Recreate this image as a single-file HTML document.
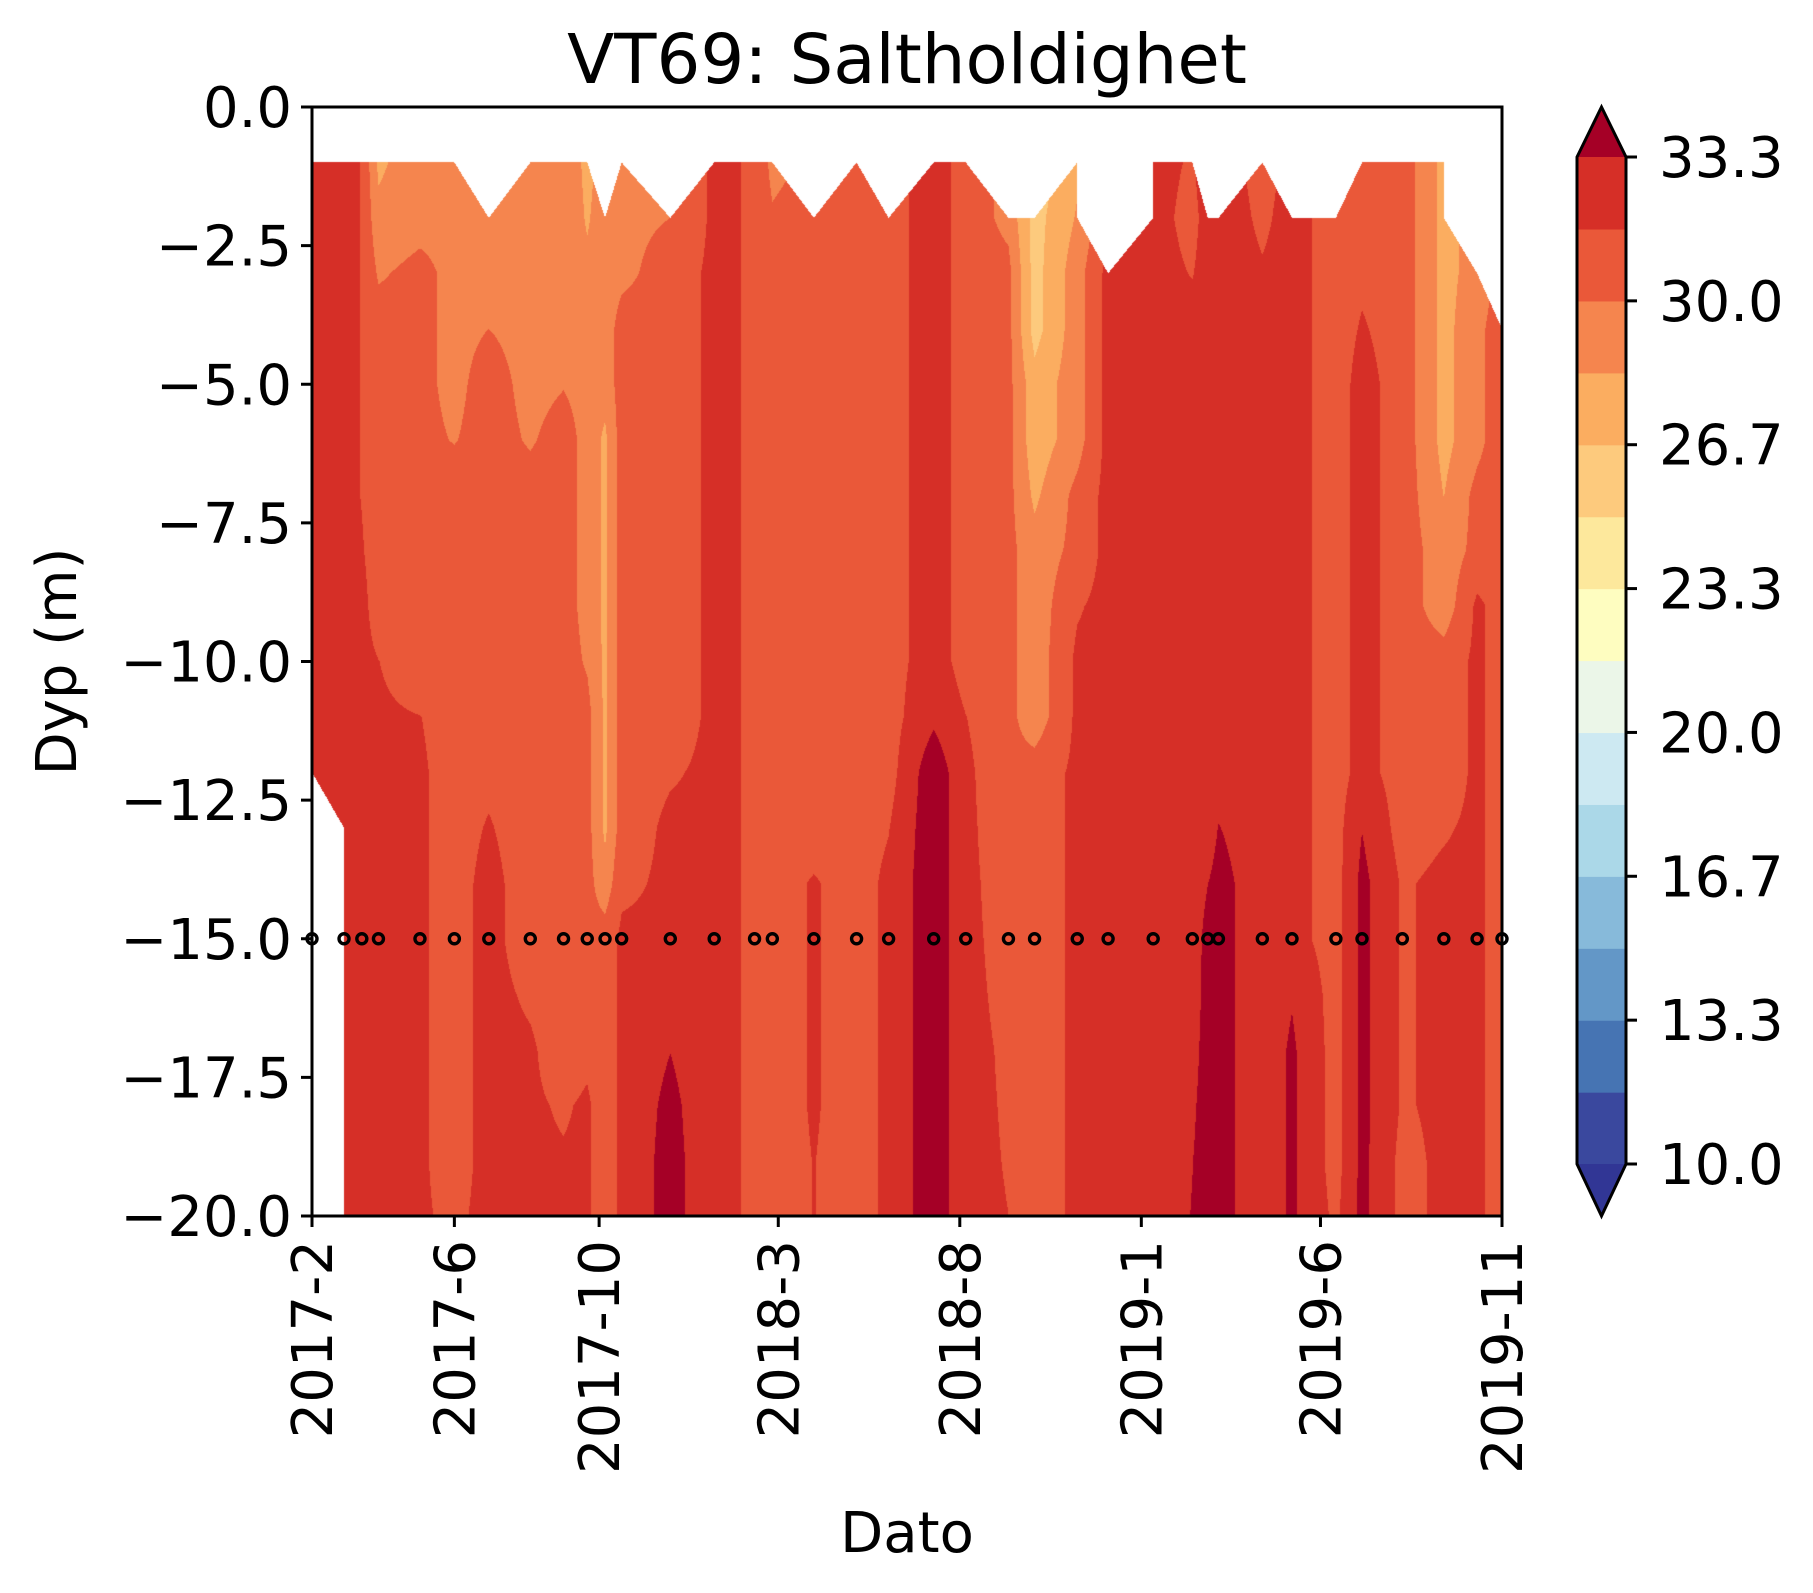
<!DOCTYPE html>
<html><head><meta charset="utf-8">
<style>
html,body{margin:0;padding:0;background:#fff;}
#wrap{position:relative;width:1813px;height:1593px;overflow:hidden;font-family:"DejaVu Sans","Liberation Sans",sans-serif;}
#cv{position:absolute;left:312px;top:107px;}
#svg{position:absolute;left:0;top:0;}
</style></head>
<body>
<div id="wrap">
<canvas id="cv" width="1190" height="1109"></canvas>
<svg id="svg" width="1813" height="1593" xmlns="http://www.w3.org/2000/svg"></svg>
</div>
<script>
// ---- data ----
const sampleDays = [0,27,42,56,91,120,149,184,212,232,247,261,302,339,373,388,423,459,486,524,551,587,609,645,671,709,742,755,764,801,826,863,885,919,954,982,1003];
const depths = [1,2,3,4,5,6,7,8,9,10,11,12,13,14,15,16,17,18,19,20];
const N = null;
const salinity = [
[31.8,31.8,31.8,31.8,31.8,32.3,32.3,32.3,32.3,32.3,32.3,32.3,N,N,N,N,N,N,N,N],
[32.3,32.3,32.3,32.3,32.3,32.3,32.3,32.3,32.3,32.3,32.3,32.3,32.3,32.3,32.3,32.3,32.3,32.3,32.3,32.3],
[31.6,31.6,31.6,31.6,31.6,31.6,31.6,31.8,32.2,32.2,32.2,32.2,32.2,32.2,32.2,32.2,32.2,32.2,32.2,32.2],
[28.0,28.8,29.8,30.8,30.8,30.8,30.8,30.8,30.8,31.7,32.0,32.0,32.0,32.0,32.0,32.0,32.0,32.0,32.0,32.0],
[29.4,29.4,30.5,30.5,30.5,30.5,30.5,30.5,30.5,30.5,31.7,31.9,31.9,31.9,31.9,31.9,31.9,31.9,31.9,31.9],
[29.5,29.5,29.5,29.5,29.5,29.9,31.0,31.0,31.0,31.0,31.0,31.0,31.0,31.0,31.0,31.0,31.0,31.0,31.0,31.3],
[N,29.3,29.6,30.0,30.8,30.8,30.8,30.8,30.8,30.8,30.8,31.3,31.8,32.2,32.2,32.2,32.2,32.2,32.2,32.2],
[29.4,29.4,29.4,29.4,29.4,29.8,30.8,30.8,30.8,30.8,30.8,30.8,30.8,30.8,30.8,31.4,31.9,31.9,31.9,31.9],
[29.3,29.3,29.3,29.3,29.9,30.8,30.8,30.8,30.8,30.8,30.8,30.8,30.8,30.8,30.8,30.8,30.8,31.5,31.8,31.8],
[28.0,28.2,28.6,29.4,29.4,29.4,29.4,29.4,29.4,29.8,30.6,30.6,30.6,30.6,30.6,30.6,31.3,31.9,31.9,31.9],
[N,29.0,29.0,29.0,29.0,28.0,28.0,28.0,28.0,28.0,28.0,28.0,28.0,29.0,30.8,30.8,30.8,30.8,30.8,30.8],
[29.3,29.5,29.5,30.8,30.8,30.8,30.8,30.8,30.8,30.8,30.8,30.8,30.8,31.3,32.0,32.0,32.0,32.0,32.0,32.0],
[N,30.0,30.9,30.9,30.9,30.9,30.9,30.9,30.9,30.9,30.9,31.5,32.0,32.0,32.0,32.2,33.3,33.8,34.0,34.0],
[32.0,32.0,32.0,32.0,32.0,32.0,32.0,32.0,32.0,32.0,32.0,32.0,32.0,32.0,32.0,32.0,32.0,32.0,32.0,32.0],
[31.5,31.5,31.5,31.5,31.5,31.5,31.5,31.5,31.5,31.5,31.5,31.5,31.5,31.5,31.5,31.5,31.5,31.5,31.5,31.5],
[29.5,30.2,31.0,31.0,31.0,31.0,31.0,31.0,31.0,31.0,31.0,31.0,31.0,31.0,31.0,31.0,31.0,31.0,31.0,31.0],
[N,31.0,31.0,31.0,31.0,31.0,31.0,31.0,31.0,31.0,31.0,31.0,31.0,31.8,31.8,31.8,31.8,31.8,31.7,31.7],
[31.0,31.0,31.0,31.0,31.0,31.0,31.0,31.0,31.0,31.0,31.0,31.0,31.0,31.0,31.0,31.0,31.0,31.0,31.0,31.0],
[N,31.0,31.0,31.0,31.0,31.0,31.0,31.0,31.0,31.0,31.0,31.0,31.6,32.0,32.0,32.0,32.0,32.0,32.0,32.0],
[32.5,32.5,32.5,32.5,32.5,32.5,32.5,32.5,32.5,32.5,33.0,34.5,34.5,34.5,34.5,34.5,34.5,34.5,34.5,34.5],
[31.0,31.0,31.0,31.0,31.0,31.0,31.0,31.0,31.0,31.0,31.7,32.0,32.0,32.0,32.0,32.0,32.0,32.0,32.0,32.0],
[N,29.5,30.5,30.5,30.5,30.5,30.5,30.5,30.5,30.5,30.5,30.5,30.8,31.05,31.2,31.35,31.5,31.55,31.6,31.67],
[N,26.0,26.0,26.0,27.3,27.3,28.0,29.0,29.0,29.0,29.0,30.8,30.8,30.8,30.8,30.8,30.8,30.8,30.8,30.8],
[28.0,28.5,29.3,29.3,29.3,29.3,30.5,30.5,31.5,32.0,32.0,32.0,32.0,32.0,32.0,32.0,32.0,32.0,32.0,32.0],
[N,N,32.2,32.2,32.2,32.2,32.2,32.2,32.2,32.2,32.2,32.2,32.2,32.2,32.2,32.2,32.2,32.2,32.2,32.2],
[32.2,32.2,32.2,32.2,32.2,32.2,32.2,32.2,32.2,32.2,32.2,32.2,32.2,32.2,32.2,32.2,32.2,32.2,32.2,32.2],
[31.5,31.2,31.6,32.2,32.2,32.2,32.2,32.2,32.2,32.2,32.2,32.2,32.2,32.2,32.3,32.5,32.8,33.1,33.3,33.4],
[N,32.3,32.3,32.3,32.3,32.3,32.3,32.3,32.3,32.3,32.3,32.3,32.3,33.3,34.0,34.0,34.0,34.0,34.0,34.0],
[N,32.5,32.5,32.5,32.5,32.5,32.5,32.5,32.5,32.5,32.5,32.5,33.4,34.0,34.0,34.0,34.0,34.0,34.0,34.0],
[31.2,31.4,31.8,32.2,32.2,32.2,32.2,32.2,32.2,32.2,32.2,32.2,32.2,32.2,32.2,32.2,32.2,32.2,32.2,32.2],
[N,32.2,32.2,32.2,32.2,32.2,32.2,32.2,32.2,32.2,32.2,32.2,32.2,32.2,32.2,33.2,33.6,33.6,33.6,33.6],
[N,31.0,31.0,31.0,31.0,31.0,31.0,31.0,31.0,31.0,31.0,31.0,31.0,31.0,31.0,31.0,31.0,31.0,31.0,31.3],
[31.0,31.0,31.4,31.8,32.2,32.2,32.2,32.2,32.2,32.2,32.2,32.2,33.3,33.8,33.8,33.8,33.8,33.8,33.8,33.8],
[31.0,31.0,31.0,31.0,31.0,31.0,31.0,31.0,31.0,31.0,31.0,31.0,31.0,31.5,31.5,31.5,31.5,31.5,31.2,31.2],
[27.8,27.8,27.8,27.8,27.8,27.8,28.3,29.0,29.0,30.8,30.8,30.8,31.5,32.0,32.0,32.0,32.0,32.0,32.0,32.0],
[N,N,29.0,29.5,29.5,29.5,30.5,30.5,32.0,32.0,32.0,32.0,32.0,32.0,32.0,32.0,32.0,32.0,32.0,32.0],
[N,N,N,31.0,31.0,31.0,31.0,31.0,31.0,31.0,31.0,31.0,31.0,31.0,31.0,31.0,31.0,31.0,31.0,31.0]
];
const markerDepth = 15;
const xTickDays = [0,120,242,393,546,699,850,1003];
const xTickLabels = ["2017-2","2017-6","2017-10","2018-3","2018-8","2019-1","2019-6","2019-11"];
const yTickValues = [0,-2.5,-5,-7.5,-10,-12.5,-15,-17.5,-20];
const yTickLabels = ["0.0","\u22122.5","\u22125.0","\u22127.5","\u221210.0","\u221212.5","\u221215.0","\u221217.5","\u221220.0"];
const cbTickValues = [10,13.333,16.667,20,23.333,26.667,30,33.333];
const cbTickLabels = ["10.0","13.3","16.7","20.0","23.3","26.7","30.0","33.3"];
const levelMin = 10, levelMax = 33.3333, nBands = 14;
const bandColors = ['#3a489e','#4674b3','#6397c7','#87bada','#abd8e8','#cde9f2','#ebf6e8','#fefdc0','#fde89c','#fdca7d','#fbad60','#f5854e','#ea5839','#d62f27'];
const overColor = '#a50026', underColor = '#313695';

// ---- geometry ----
const PX0=312, PX1=1502, PY0=107, PY1=1216;
const dMin = sampleDays[0], dMax = sampleDays[sampleDays.length-1];
function xScale(day){ return PX0 + (day-dMin)/(dMax-dMin)*(PX1-PX0); }
function yScale(v){ return PY0 + (0 - v)/20*(PY1-PY0); }
function colorFor(v){
  if (v >= levelMax) return overColor;
  if (v < levelMin) return underColor;
  let k = Math.floor((v-levelMin)/((levelMax-levelMin)/nBands));
  return bandColors[Math.min(nBands-1,Math.max(0,k))];
}
function hexRGB(h){ return [parseInt(h.substr(1,2),16),parseInt(h.substr(3,2),16),parseInt(h.substr(5,2),16)]; }

// ---- contour fill on canvas ----
(function(){
  const cv=document.getElementById('cv'); const ctx=cv.getContext('2d');
  const W=cv.width, H=cv.height; const img=ctx.createImageData(W,H); const d=img.data;
  for(let i=0;i<d.length;i+=4){d[i]=255;d[i+1]=255;d[i+2]=255;d[i+3]=255;}
  const cache={};
  let ci=0;
  for(let px=0;px<W;px++){
    const day = dMin + (px+0.5)/W*(dMax-dMin);
    while(ci<sampleDays.length-2 && day>sampleDays[ci+1]) ci++;
    const u=(day-sampleDays[ci])/(sampleDays[ci+1]-sampleDays[ci]);
    const A=salinity[ci], B=salinity[ci+1];
    for(let py=0;py<H;py++){
      const dep=(py+0.5)/H*20;
      if(dep<depths[0]) continue;
      let j=Math.floor(dep-depths[0]); if(j>=depths.length-1) j=depths.length-2;
      const v=(dep-depths[j])/(depths[j+1]-depths[j]);
      const a=A[j], b=B[j], c=A[j+1], e=B[j+1];
      const miss=[a==null,b==null,c==null,e==null];
      const nm=miss.filter(x=>x).length;
      let val=null;
      if(nm===0){ val=a*(1-u)*(1-v)+b*u*(1-v)+c*(1-u)*v+e*u*v; }
      else if(nm===1){
        if(miss[0]){ if(u+v>=1) val=b+c-e+ (e-c)*u + (e-b)*v; }
        else if(miss[3]){ if(u+v<=1) val=a+(b-a)*u+(c-a)*v; }
        else if(miss[1]){ if(v>=u) val=a+(e-c)*u+(c-a)*v; }
        else { if(u>=v) val=a+(b-a)*u+(e-b)*v; }
      }
      if(val==null) continue;
      const col=colorFor(val); const rgb=cache[col]||(cache[col]=hexRGB(col));
      const k=(py*W+px)*4; d[k]=rgb[0];d[k+1]=rgb[1];d[k+2]=rgb[2];
    }
  }
  ctx.putImageData(img,0,0);
})();

// ---- SVG overlay ----
const NS='http://www.w3.org/2000/svg';
const svg=document.getElementById('svg');
function mk(tag,attrs,parent){const el=document.createElementNS(NS,tag);for(const k in attrs)el.setAttribute(k,attrs[k]);(parent||svg).appendChild(el);return el;}

const gm=mk('g',{});


sampleDays.forEach(function(day){
  const c=mk('circle',{cx:xScale(day),cy:yScale(-markerDepth),r:5,fill:'none',stroke:'#000','stroke-width':3.4},gm);
  
  
});

const frame=mk('rect',{x:PX0,y:PY0,width:PX1-PX0,height:PY1-PY0,fill:'none',stroke:'#000','stroke-width':3});



const FS=56;
xTickDays.forEach(function(day,i){
  const x=xScale(day);
  const t=mk('line',{x1:x,y1:PY1,x2:x,y2:PY1+11,stroke:'#000','stroke-width':3});
  
  
  const lb=mk('text',{x:0,y:0,'font-size':FS,'text-anchor':'end',transform:'translate('+(x+20)+','+(PY1+24)+') rotate(-90)',fill:'#000'});
  lb.textContent=xTickLabels[i];
  
  
});
yTickValues.forEach(function(v,i){
  const y=yScale(v);
  const t=mk('line',{x1:PX0-11,y1:y,x2:PX0,y2:y,stroke:'#000','stroke-width':3});
  
  
  const lb=mk('text',{x:PX0-20,y:y+20,'font-size':FS,'text-anchor':'end',fill:'#000'});
  lb.textContent=yTickLabels[i];
  
  
});

const title=mk('text',{x:(PX0+PX1)/2,y:83,'font-size':69,'text-anchor':'middle',fill:'#000'});
title.textContent='VT69: Saltholdighet';


const xt=mk('text',{x:(PX0+PX1)/2,y:1552,'font-size':FS,'text-anchor':'middle',fill:'#000'});
xt.textContent='Dato';


const yt=mk('text',{x:0,y:0,'font-size':FS,'text-anchor':'middle',transform:'translate(76,'+((PY0+PY1)/2)+') rotate(-90)',fill:'#000'});
yt.textContent='Dyp (m)';



const CBX0=1577, CBX1=1626, CBY0=157, CBY1=1164, CBT=107, CBB=1216;
function cbY(v){ return CBY1 - (v-levelMin)/(levelMax-levelMin)*(CBY1-CBY0); }
const gcb=mk('g',{});


const bandH=(levelMax-levelMin)/nBands;
bandColors.forEach(function(col,k){
  const y0=cbY(levelMin+(k+1)*bandH), y1=cbY(levelMin+k*bandH);
  const r=mk('rect',{x:CBX0,y:y0,width:CBX1-CBX0,height:y1-y0+0.6,fill:col},gcb);
  
  
});
const cx=(CBX0+CBX1)/2;
const up=mk('polygon',{points:CBX0+','+CBY0+' '+cx+','+CBT+' '+CBX1+','+CBY0,fill:overColor},gcb);


const dn=mk('polygon',{points:CBX0+','+CBY1+' '+cx+','+CBB+' '+CBX1+','+CBY1,fill:underColor},gcb);


const outline=mk('polygon',{points:CBX0+','+CBY0+' '+cx+','+CBT+' '+CBX1+','+CBY0+' '+CBX1+','+CBY1+' '+cx+','+CBB+' '+CBX0+','+CBY1,fill:'none',stroke:'#000','stroke-width':3},gcb);


cbTickValues.forEach(function(v,i){
  const y=cbY(v);
  const t=mk('line',{x1:CBX1,y1:y,x2:CBX1+11,y2:y,stroke:'#000','stroke-width':3},gcb);
  
  
  const lb=mk('text',{x:1659,y:y+20,'font-size':FS,fill:'#000'},gcb);
  lb.textContent=cbTickLabels[i];
  
  
});
</script>
</body></html>
